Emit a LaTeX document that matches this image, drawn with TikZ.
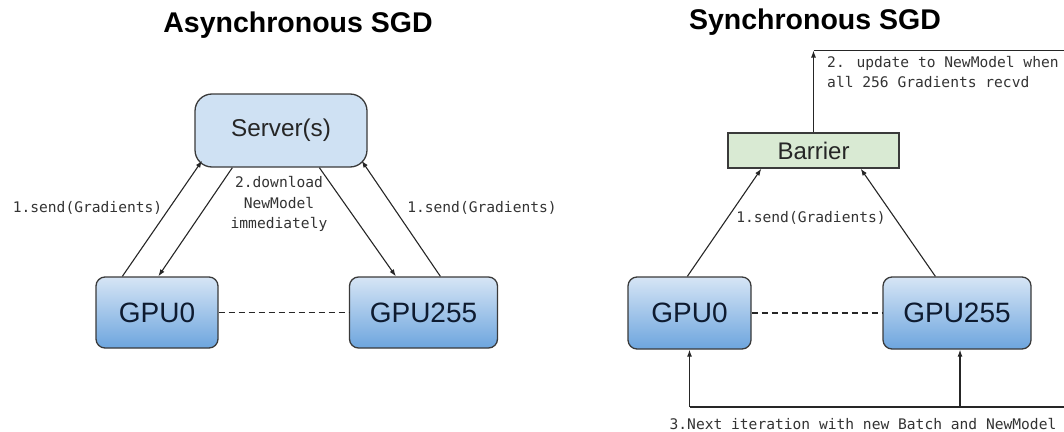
\documentclass[tikz,border=0pt]{standalone}
\usepackage{fontspec}
\setmainfont{Liberation Sans}
\newfontfamily\codefont{DejaVu Sans Mono}
\usetikzlibrary{arrows.meta,calc}
\definecolor{boxline}{HTML}{3A3A3A}
\definecolor{gputop}{HTML}{D6E5F5}
\definecolor{gpubot}{HTML}{6DA5DE}
\definecolor{gputext}{HTML}{0E1B30}
\definecolor{serverfill}{HTML}{CFE1F3}
\definecolor{barrierfill}{HTML}{D9EAD3}
\definecolor{linecol}{HTML}{262626}
\definecolor{labelcol}{HTML}{333333}
\tikzset{
  gpubox/.style={draw=boxline, line width=1.3pt, rounded corners=9pt,
    top color=gputop, bottom color=gpubot, text=gputext,
    font=\fontsize{28}{30}\selectfont, inner sep=0pt, minimum height=71pt},
  serverbox/.style={draw=boxline, line width=1.3pt, rounded corners=17pt,
    fill=serverfill, text=black!85, font=\fontsize{24.3}{26}\selectfont,
    inner sep=0pt, minimum width=172pt, minimum height=73pt},
  barrierbox/.style={draw=boxline, line width=1.3pt, fill=barrierfill,
    text=black!85, font=\fontsize{24}{26}\selectfont, inner sep=0pt,
    minimum width=171pt, minimum height=35pt},
  flow/.style={draw=linecol, line width=1.1pt,
    -{Latex[length=7pt,width=5pt]}},
  plain/.style={draw=linecol, line width=1.1pt},
  link/.style={draw=linecol, line width=1.1pt, dash pattern=on 6pt off 4pt},
  codelabel/.style={text=labelcol, inner sep=0pt,
    font=\codefont\fontsize{14.6}{20.5}\selectfont},
  heading/.style={font=\bfseries\fontsize{28.5}{30}\selectfont, inner sep=0pt,
    anchor=base}
}
\begin{document}
\begin{tikzpicture}[x=1pt,y=-1pt]
\useasboundingbox (0,0) rectangle (1064,431);

% ---------------- asynchronous scheme ----------------
\node[heading] (t1) at (298,32) {Asynchronous SGD};
\node[serverbox] (s) at (281,130.5) {Server(s)};
\node[gpubox, minimum width=122pt] (g0) at (157,312.5) {GPU0};
\node[gpubox, minimum width=148pt] (g255) at (423.5,312.5) {GPU255};

\draw[link] (g0.east) -- (g255.west);

\draw[flow] ([xshift=27pt]g0.north west) -- ([xshift=7.7pt,yshift=7pt]s.south west);
\draw[flow] ([xshift=38pt]s.south west) -- ([xshift=63pt]g0.north west);
\draw[flow] ([xshift=125pt]s.south west) -- ([xshift=47pt]g255.north west);
\draw[flow] ([xshift=91.5pt]g255.north west) -- ([xshift=-6pt,yshift=7pt]s.south east);

\node[codelabel] (l1) at (87.5,207.5) {1.send(Gradients)};
\node[codelabel] (l2) at (482,207.5) {1.send(Gradients)};
\node[codelabel, align=center] (l3) at (279,204) {2.download\\NewModel\\immediately};

% ---------------- synchronous scheme ----------------
\node[heading] (t2) at (815,29) {Synchronous SGD};
\node[barrierbox] (b) at (813.5,150.5) {Barrier};
\node[gpubox, minimum width=123pt, minimum height=72pt] (rg0) at (689.5,313) {GPU0};
\node[gpubox, minimum width=148pt, minimum height=72pt] (rg255) at (957,313) {GPU255};

\draw[link] (rg0.east) -- (rg255.west);

\draw[flow] ([xshift=60pt]rg0.north west) -- ([xshift=34pt]b.south west);
\draw[flow] ([xshift=53pt]rg255.north west) -- ([xshift=-39pt]b.south east);
\node[codelabel] (l4) at (811,218) {1.send(Gradients)};

% model update leaves the barrier
\coordinate (topc) at (813.5,50.5);
\coordinate (topr) at (1064,50.5);
\draw[flow] (b.north) -- (topc);
\draw[plain] (topc) -- (topr);
\node[codelabel, align=left, anchor=north west] (l5) at (827,56)
  {2. update to NewModel when\\all 256 Gradients recvd};

% next iteration feeds both workers
\coordinate (bl) at (689.5,407);
\coordinate (bm) at (960,407);
\coordinate (br) at (1064,407);
\draw[plain] (bl) -- (br);
\draw[flow] (bl) -- (rg0.south);
\draw[flow] (bm) -- ([xshift=3pt]rg255.south);
\node[codelabel] (l6) at (863,424) {3.Next iteration with new Batch and NewModel};
\end{tikzpicture}
\end{document}
